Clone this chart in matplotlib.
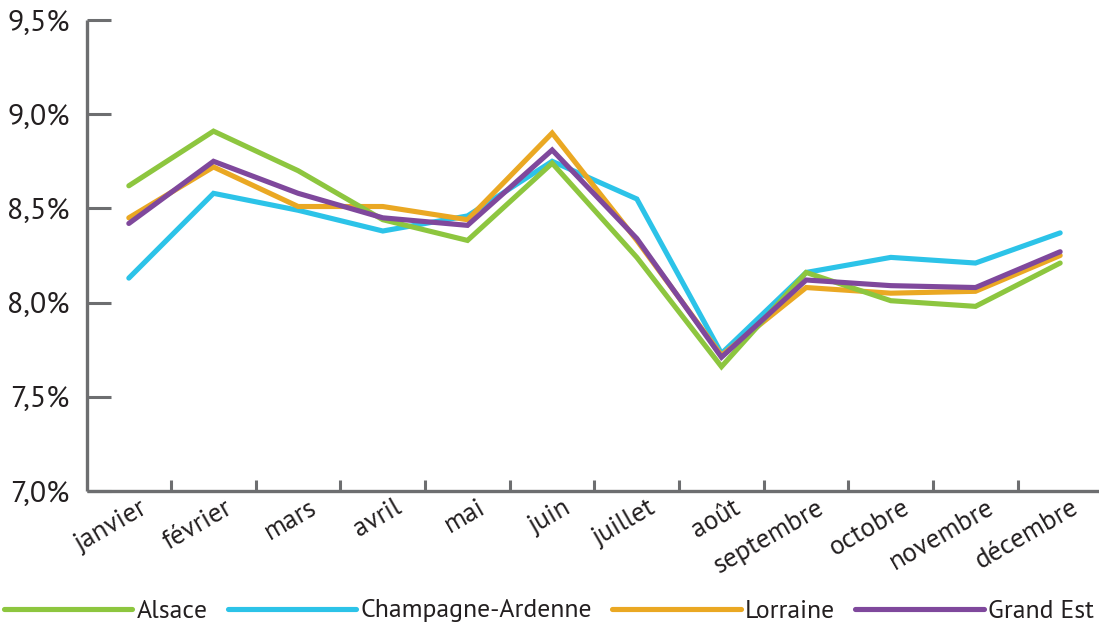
import matplotlib
matplotlib.use("Agg")
import matplotlib.pyplot as plt
from matplotlib.ticker import FixedLocator, FuncFormatter
from matplotlib.transforms import ScaledTranslation
from matplotlib.lines import Line2D

# Monthly rates (%) by region
months = ["janvier", "février", "mars", "avril", "mai", "juin", "juillet",
          "août", "septembre", "octobre", "novembre", "décembre"]
alsace = [8.62, 8.91, 8.70, 8.44, 8.33, 8.74, 8.24, 7.66, 8.16, 8.01, 7.98, 8.21]
champagne_ardenne = [8.13, 8.58, 8.49, 8.38, 8.46, 8.75, 8.55, 7.73, 8.16, 8.24, 8.21, 8.37]
lorraine = [8.45, 8.72, 8.51, 8.51, 8.44, 8.90, 8.33, 7.72, 8.08, 8.05, 8.06, 8.25]
grand_est = [8.42, 8.75, 8.58, 8.45, 8.41, 8.81, 8.34, 7.71, 8.12, 8.09, 8.08, 8.27]

series_names = ["Alsace", "Champagne-Ardenne", "Lorraine", "Grand Est"]
y_ticks = [7.0, 7.5, 8.0, 8.5, 9.0, 9.5]

FONT = ["PT Sans", "DejaVu Sans"]
plt.rcParams["font.family"] = FONT
TEXT = "#231f20"
AXIS = "#6d6e70"
COLORS = {"Alsace": "#8dc63f", "Champagne-Ardenne": "#2cc3e8",
          "Lorraine": "#eaa823", "Grand Est": "#7f489c"}
ZORDER = {"Champagne-Ardenne": 2.0, "Lorraine": 2.1, "Alsace": 2.2, "Grand Est": 2.3}

fig = plt.figure(figsize=(10.99, 6.26), dpi=100)
ax = fig.add_axes([86.5 / 1099, 135 / 626, 1016 / 1099, 471 / 626])

x = list(range(len(months)))
data = {"Alsace": alsace, "Champagne-Ardenne": champagne_ardenne,
        "Lorraine": lorraine, "Grand Est": grand_est}
for name in series_names:
    ax.plot(x, data[name], color=COLORS[name], lw=3.7, zorder=ZORDER[name],
            solid_capstyle="round", solid_joinstyle="miter")

ax.set_xlim(-0.5, len(months) - 0.5)
ax.set_ylim(y_ticks[0], y_ticks[-1])

for side in ("top", "right"):
    ax.spines[side].set_visible(False)
for side in ("left", "bottom"):
    ax.spines[side].set_color(AXIS)
    ax.spines[side].set_linewidth(2.4)
    ax.spines[side].set_capstyle("butt")

# y axis: long inward ticks, French decimal comma
ax.yaxis.set_major_locator(FixedLocator(y_ticks))
ax.yaxis.set_major_formatter(FuncFormatter(lambda v, _: f"{v:.1f}%".replace(".", ",")))
ax.tick_params(axis="y", direction="in", length=17.5, width=2.2, color=AXIS,
               pad=12, labelsize=21.5, labelcolor=TEXT)

# x axis: short ticks at month boundaries, rotated month labels
ax.set_xticks(x)
ax.set_xticklabels(months)
ax.set_xticks([i + 0.5 for i in x[:-1]], minor=True)
ax.tick_params(axis="x", which="major", length=0, pad=15, labelsize=19.5, labelcolor=TEXT)
ax.tick_params(axis="x", which="minor", direction="in", length=8, width=2.2, color=AXIS)
shift = ScaledTranslation(0.20, 0, fig.dpi_scale_trans)
for lab in ax.get_xticklabels():
    lab.set_rotation(30)
    lab.set_ha("right")
    lab.set_va("baseline")
    lab.set_rotation_mode("anchor")
    lab.set_transform(lab.get_transform() + shift)

handles = [Line2D([], [], color=COLORS[n], lw=3.7, solid_capstyle="round") for n in series_names]
leg = fig.legend(handles, series_names, ncol=4, loc="center left",
                 bbox_to_anchor=(4 / 1099, 1 - 611 / 626), frameon=False,
                 fontsize=18.5, handlelength=5.0, handletextpad=0.15,
                 columnspacing=0.8, borderpad=0, borderaxespad=0)
for t in leg.get_texts():
    t.set_color(TEXT)

fig.savefig("out.png", dpi=100)
